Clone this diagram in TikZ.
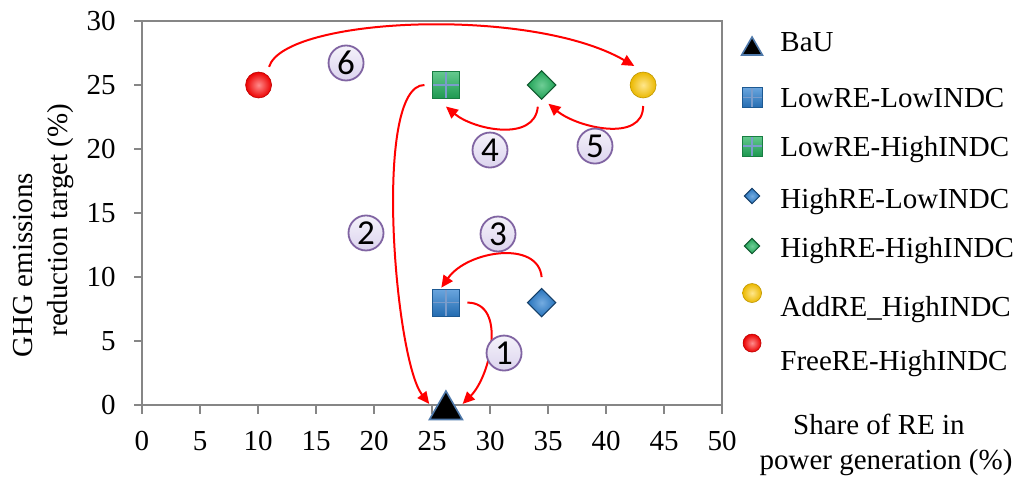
\documentclass[tikz,border=0pt]{standalone}
\usepackage{fontspec}
\setmainfont{Liberation Serif}
\newfontfamily\numfont{Carlito}
\usetikzlibrary{shapes.geometric,arrows.meta}

\definecolor{frameGray}{HTML}{868686}
\definecolor{lilacFill}{HTML}{DCD4EE}
\definecolor{lilacEdge}{HTML}{8064A2}
\definecolor{lowBlue}{HTML}{2A7FD0}
\definecolor{highGreen}{HTML}{22B35E}
\definecolor{crossBlue}{HTML}{7A9CCB}
\definecolor{addYellow}{HTML}{FFC800}
\definecolor{triEdge}{HTML}{4F79AA}

\begin{document}
\begin{tikzpicture}[x=5.8pt,y=6.4pt,
  font=\fontsize{14.5}{17}\selectfont,
  tri node/.style={regular polygon,regular polygon sides=3,fill=black,draw=triEdge,line width=0.8pt,inner sep=0pt,minimum size=19pt,outer sep=4pt},
  sq node/.style={rectangle,inner sep=0pt,minimum size=13.5pt,outer sep=4pt,draw=#1!70!black,line width=0.4pt,top color=#1!70!white,bottom color=#1!85!black,
    path picture={\draw[crossBlue,line width=0.6pt] (path picture bounding box.north) -- (path picture bounding box.south) (path picture bounding box.west) -- (path picture bounding box.east);}},
  dia node/.style={diamond,inner sep=0pt,minimum width=17.5pt,minimum height=17.5pt,outer sep=4pt,draw=#1!50!black,line width=0.5pt,inner color=#1!65!white,outer color=#1!90!black},
  ball node/.style={circle,inner sep=0pt,minimum size=13pt,outer sep=4pt,draw=#1!75!black,line width=0.3pt,inner color=#1!45!white,outer color=#1!92!black},
  num node/.style={circle,draw=lilacEdge,line width=0.9pt,top color=lilacFill!30!white,bottom color=lilacFill,minimum size=17.5pt,inner sep=0pt,font=\numfont\fontsize{17.5}{17.5}\selectfont},
  trans/.style={draw=red,line width=1pt,-{Triangle[length=6pt,width=5.5pt]}},
  ylbl/.style={anchor=east,inner sep=0pt},
  xlbl/.style={anchor=base,inner sep=0pt},
  lg text/.style={anchor=base west,inner sep=0pt}]

  \useasboundingbox (-12.241,-5.781) rectangle (76.034,31.641);

  % frame and ticks
  \draw[frameGray,line width=0.75pt] (0,0) rectangle (50,30);
  \draw[frameGray,line width=0.75pt]
    (0,0) -- (-0.69,0) (0,5) -- (-0.69,5) (0,10) -- (-0.69,10) (0,15) -- (-0.69,15)
    (0,20) -- (-0.69,20) (0,25) -- (-0.69,25) (0,30) -- (-0.69,30)
    (0,0) -- (0,-0.7) (5,0) -- (5,-0.7) (10,0) -- (10,-0.7) (15,0) -- (15,-0.7)
    (20,0) -- (20,-0.7) (25,0) -- (25,-0.7) (30,0) -- (30,-0.7) (35,0) -- (35,-0.7)
    (40,0) -- (40,-0.7) (45,0) -- (45,-0.7) (50,0) -- (50,-0.7);

  \node[ylbl] (y0) at (-2.24,0) {0};
  \node[ylbl] (y5) at (-2.24,5) {5};
  \node[ylbl] (y10) at (-2.24,10) {10};
  \node[ylbl] (y15) at (-2.24,15) {15};
  \node[ylbl] (y20) at (-2.24,20) {20};
  \node[ylbl] (y25) at (-2.24,25) {25};
  \node[ylbl] (y30) at (-2.24,30) {30};

  \node[xlbl] (x0) at (0,-3.52) {0};
  \node[xlbl] (x5) at (5,-3.52) {5};
  \node[xlbl] (x10) at (10,-3.52) {10};
  \node[xlbl] (x15) at (15,-3.52) {15};
  \node[xlbl] (x20) at (20,-3.52) {20};
  \node[xlbl] (x25) at (25,-3.52) {25};
  \node[xlbl] (x30) at (30,-3.52) {30};
  \node[xlbl] (x35) at (35,-3.52) {35};
  \node[xlbl] (x40) at (40,-3.52) {40};
  \node[xlbl] (x45) at (45,-3.52) {45};
  \node[xlbl] (x50) at (50,-3.52) {50};

  % axis titles
  \node[rotate=90,anchor=base,inner sep=0pt] (ytitleA) at (-9.40,10.94) {GHG emissions};
  \node[rotate=90,anchor=base,inner sep=0pt] (ytitleB) at (-6.38,14.45) {reduction target (\%)};
  \node[anchor=base,inner sep=0pt] (xtitleA) at (63.53,-2.34) {Share of RE in};
  \node[anchor=base,inner sep=0pt] (xtitleB) at (64.14,-5.0) {power generation (\%)};

  % scenarios
  \node[tri node,yshift=-2.5pt] (bau) at (26.2,0) {};
  \node[sq node=lowBlue] (lowLow) at (26.2,8) {};
  \node[dia node=lowBlue] (highLow) at (34.45,8) {};
  \node[sq node=highGreen] (lowHigh) at (26.2,25) {};
  \node[dia node=highGreen] (highHigh) at (34.45,25) {};
  \node[ball node=addYellow] (addRE) at (43.2,25) {};
  \node[ball node=red] (freeRE) at (10.05,25) {};

  \path[every edge/.style={trans}]
   (lowLow.east) edge[out=0,in=45] (bau.20)
   (lowHigh.west) edge[out=180,in=128,out distance=26pt,in distance=28pt] (bau.160)
   (highLow.north) edge[out=95,in=55,shorten >=-4pt] (lowLow.north)
   (highHigh.-100) edge[out=-95,in=-40] (lowHigh.south)
   (addRE.south) edge[out=-90,in=-40] (highHigh.-70)
   (freeRE.60) edge[out=73,in=150,out distance=26pt,in distance=60pt] (addRE.115);

  \node[num node] (n1) at (31.21,4.06) {1};
  \node[num node] (n2) at (19.31,13.44) {2};
  \node[num node] (n3) at (30.69,13.36) {3};
  \node[num node] (n4) at (30.0,19.92) {4};
  \node[num node] (n5) at (39.05,20.23) {5};
  \node[num node] (n6) at (17.59,26.72) {6};

  % legend
  \node[tri node,minimum size=12pt] (lgBaU) at (52.59,27.81) {};
  \node[sq node=lowBlue,minimum size=10pt] (lgLowLow) at (52.59,24.02) {};
  \node[sq node=highGreen,minimum size=10pt] (lgLowHigh) at (52.59,20.23) {};
  \node[dia node=lowBlue,minimum width=11pt,minimum height=11pt] (lgHighLow) at (52.59,16.33) {};
  \node[dia node=highGreen,minimum width=11pt,minimum height=11pt] (lgHighHigh) at (52.59,12.42) {};
  \node[ball node=addYellow,minimum size=9.5pt] (lgAddRE) at (52.59,8.75) {};
  \node[ball node=red,minimum size=9pt] (lgFreeRE) at (52.59,4.84) {};

  \node[lg text] (lgBaUtxt) at (55,27.58) {BaU};
  \node[lg text] (lgLowLowtxt) at (55,23.28) {LowRE-LowINDC};
  \node[lg text] (lgLowHightxt) at (55,19.38) {LowRE-HighINDC};
  \node[lg text] (lgHighLowtxt) at (55,15.39) {HighRE-LowINDC};
  \node[lg text] (lgHighHightxt) at (55,11.56) {HighRE-HighINDC};
  \node[lg text] (lgAddREtxt) at (55,6.88) {AddRE\_HighINDC};
  \node[lg text] (lgFreeREtxt) at (55,2.73) {FreeRE-HighINDC};
\end{tikzpicture}
\end{document}
